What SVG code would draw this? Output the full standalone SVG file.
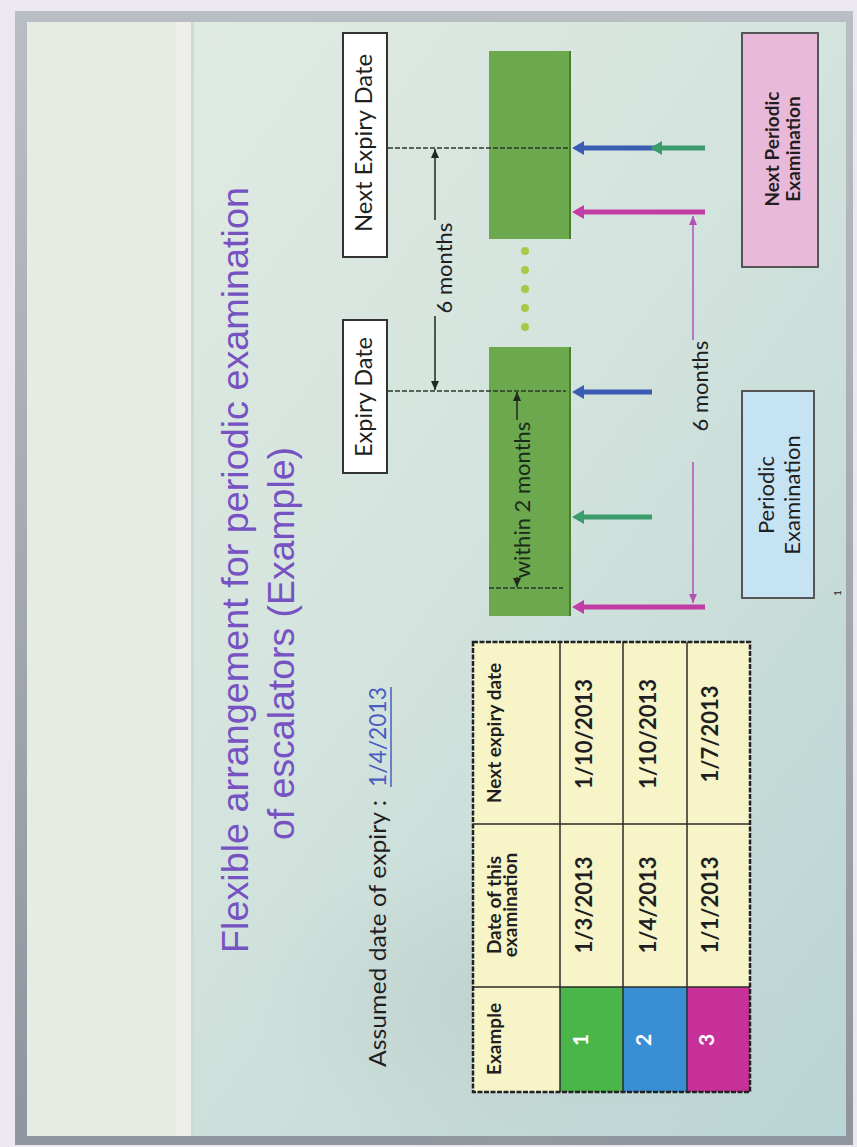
<svg xmlns="http://www.w3.org/2000/svg" width="857" height="1147" viewBox="0 0 857 1147">
<defs>
<linearGradient id="slideBg" x1="0" y1="0" x2="1" y2="1">
<stop offset="0" stop-color="#e3ece3"/>
<stop offset="0.5" stop-color="#d3e3dd"/>
<stop offset="1" stop-color="#b9d4d4"/>
</linearGradient>
<radialGradient id="blob" cx="0.5" cy="0.5" r="0.5">
<stop offset="0" stop-color="#b9c9c6" stop-opacity="0.55"/>
<stop offset="1" stop-color="#b9c9c6" stop-opacity="0"/>
</radialGradient>
<linearGradient id="frameG" x1="0" y1="0" x2="0" y2="1">
<stop offset="0" stop-color="#b9bdc4"/>
<stop offset="1" stop-color="#8f959c"/>
</linearGradient>
<marker id="hBlue" viewBox="0 -7 12 14" refX="6" refY="0" markerWidth="12" markerHeight="14" markerUnits="userSpaceOnUse" orient="auto"><path d="M0,-7 L12,0 L0,7 z" fill="#3a5db4"/></marker>
<marker id="hGreen" viewBox="0 -7 12 14" refX="6" refY="0" markerWidth="12" markerHeight="14" markerUnits="userSpaceOnUse" orient="auto"><path d="M0,-7 L12,0 L0,7 z" fill="#3b9b6c"/></marker>
<marker id="hMag" viewBox="0 -7 12 14" refX="6" refY="0" markerWidth="12" markerHeight="14" markerUnits="userSpaceOnUse" orient="auto"><path d="M0,-7 L12,0 L0,7 z" fill="#c23da3"/></marker>
<marker id="hDim" viewBox="0 -4 9 8" refX="9" refY="0" markerWidth="9" markerHeight="8" markerUnits="userSpaceOnUse" orient="auto-start-reverse"><path d="M0,-4 L9,0 L0,4 z" fill="#1e2a1e"/></marker>
<marker id="hThin" viewBox="0 -4 9 8" refX="9" refY="0" markerWidth="9" markerHeight="8" markerUnits="userSpaceOnUse" orient="auto"><path d="M0,-4 L9,0 L0,4 z" fill="#b450b4"/></marker>
</defs>
<style>
.t{font-family:Lato,"Open Sans",sans-serif;fill:#1f1f1f}
.title{font-family:"Liberation Sans",Arial,sans-serif;font-size:37px;fill:#7652c2}
.box{stroke:#333;stroke-width:2}
.dash{stroke:#2a3a2a;stroke-width:1.5;stroke-dasharray:5,2;fill:none}
.dim{stroke:#1e2a1e;stroke-width:1.5;fill:none}
.thin{stroke:#b450b4;stroke-width:1.5;fill:none}
.arr{stroke-width:5;fill:none}
.green{fill:#6ca84e}
.cell{fill:#f7f4c8}
.grid{stroke:#2b2b2b;stroke-width:1.5}
.hdr{font-size:19px;font-weight:bold}
.dat{font-size:22px;font-weight:bold}
.num{font-family:Lato,"Open Sans",sans-serif;font-size:21px;font-weight:bold;fill:#ffffff}
</style>
<rect x="0" y="0" width="857" height="1147" fill="#ece8f1"/>
<rect x="15" y="11" width="838" height="1134" fill="url(#frameG)"/>
<rect x="27" y="22" width="819" height="1114" fill="url(#slideBg)"/>
<ellipse cx="520" cy="1000" rx="260" ry="160" fill="url(#blob)"/>
<rect x="27" y="22" width="165" height="1114" fill="#e6ece4"/>
<rect x="176" y="22" width="15" height="1114" fill="#eeefea"/>
<rect x="191" y="22" width="3" height="1114" fill="#c9ddd6"/>

<g id="title">
<text class="title" transform="translate(248,953) rotate(-90)" textLength="766" lengthAdjust="spacingAndGlyphs">Flexible arrangement for periodic examination</text>
<text class="title" transform="translate(294,840) rotate(-90)" textLength="393" lengthAdjust="spacingAndGlyphs">of escalators (Example)</text>
</g>

<g id="assumed">
<text class="t" font-size="24" transform="translate(386,1067) rotate(-90)" textLength="267" lengthAdjust="spacingAndGlyphs">Assumed date of expiry :</text>
<text class="t" font-size="24" style="fill:#4a5cc0" transform="translate(386,787) rotate(-90)" textLength="100" lengthAdjust="spacingAndGlyphs">1/4/2013</text>
<line x1="391" y1="687" x2="391" y2="787" stroke="#4a5cc0" stroke-width="1.5"/>
</g>

<g id="next-expiry-date">
<rect class="box" x="343" y="33" width="44" height="224" fill="#ffffff"/>
<text class="t" font-size="23" text-anchor="middle" transform="translate(372,143) rotate(-90)" textLength="178" lengthAdjust="spacingAndGlyphs">Next Expiry Date</text>
</g>
<g id="expiry-date">
<rect class="box" x="343" y="320" width="44" height="153" fill="#ffffff"/>
<text class="t" font-size="23" text-anchor="middle" transform="translate(372,397) rotate(-90)" textLength="120" lengthAdjust="spacingAndGlyphs">Expiry Date</text>
</g>

<g id="period-next">
<rect class="green" x="489" y="51" width="82" height="188"/>
<line x1="570" y1="51" x2="570" y2="239" stroke="#4c7c34" stroke-width="2"/>
</g>
<g id="period-current">
<rect class="green" x="489" y="347" width="82" height="269"/>
<line x1="570" y1="347" x2="570" y2="616" stroke="#4c7c34" stroke-width="2"/>
</g>
<g id="dots" fill="#a9c84a">
<circle cx="525" cy="251" r="4"/>
<circle cx="525" cy="270" r="4"/>
<circle cx="525" cy="289" r="4"/>
<circle cx="525" cy="308" r="4"/>
<circle cx="525" cy="327" r="4"/>
</g>

<g id="next-periodic-examination">
<rect x="742" y="33" width="76" height="234" fill="#e9b9da" stroke="#555" stroke-width="2"/>
<text class="t" font-size="19" font-weight="bold" text-anchor="middle" transform="translate(779,149) rotate(-90)">Next Periodic</text>
<text class="t" font-size="19" font-weight="bold" text-anchor="middle" transform="translate(800,149) rotate(-90)">Examination</text>
</g>
<g id="periodic-examination">
<rect x="742" y="391" width="72" height="207" fill="#c6e3f3" stroke="#555" stroke-width="2"/>
<text class="t" font-size="22" text-anchor="middle" transform="translate(774,495) rotate(-90)">Periodic</text>
<text class="t" font-size="22" text-anchor="middle" transform="translate(800,495) rotate(-90)">Examination</text>
</g>

<g id="connectors">
<line class="dash" x1="388" y1="148" x2="570" y2="148"/>
<line class="dash" x1="388" y1="391" x2="566" y2="391"/>
<line class="dash" x1="489" y1="588" x2="563" y2="588"/>
<line class="dim" x1="435" y1="220" x2="435" y2="149" marker-end="url(#hDim)"/>
<line class="dim" x1="435" y1="316" x2="435" y2="390" marker-end="url(#hDim)"/>
<text class="t" font-size="22" text-anchor="middle" transform="translate(452,268) rotate(-90)">6 months</text>
<line class="dim" x1="517" y1="420" x2="517" y2="392" marker-end="url(#hDim)"/>
<line class="dim" x1="517" y1="577" x2="517" y2="587" marker-end="url(#hDim)"/>
<text class="t" font-size="22" text-anchor="middle" style="fill:#1b2b1b" transform="translate(530,500) rotate(-90)">within 2 months</text>
<line class="arr" stroke="#3a5db4" x1="656" y1="148" x2="578" y2="148" marker-end="url(#hBlue)"/>
<line class="arr" stroke="#3b9b6c" x1="705" y1="148" x2="656" y2="148" marker-end="url(#hGreen)"/>
<line class="arr" stroke="#c23da3" x1="705" y1="212" x2="578" y2="212" marker-end="url(#hMag)"/>
<line class="arr" stroke="#3a5db4" x1="652" y1="392" x2="578" y2="392" marker-end="url(#hBlue)"/>
<line class="arr" stroke="#3b9b6c" x1="652" y1="517" x2="578" y2="517" marker-end="url(#hGreen)"/>
<line class="arr" stroke="#c23da3" x1="705" y1="607" x2="578" y2="607" marker-end="url(#hMag)"/>
<line class="thin" x1="693" y1="340" x2="693" y2="216" marker-end="url(#hThin)"/>
<line class="thin" x1="693" y1="462" x2="693" y2="603" marker-end="url(#hThin)"/>
<text class="t" font-size="22" text-anchor="middle" transform="translate(708,386) rotate(-90)">6 months</text>
</g>

<g id="table">
<rect class="cell" x="473" y="642" width="277" height="450"/>
<rect x="560" y="987" width="63" height="105" fill="#4ab64a"/>
<rect x="623" y="987" width="64" height="105" fill="#3a8ed4"/>
<rect x="687" y="987" width="63" height="105" fill="#c8309a"/>
<line class="grid" x1="560" y1="642" x2="560" y2="1092"/>
<line class="grid" x1="623" y1="642" x2="623" y2="1092"/>
<line class="grid" x1="687" y1="642" x2="687" y2="1092"/>
<line class="grid" x1="473" y1="824" x2="750" y2="824"/>
<line class="grid" x1="473" y1="987" x2="750" y2="987"/>
<rect x="473" y="642" width="277" height="450" fill="none" stroke="#222" stroke-width="2.5" stroke-dasharray="5,1.5"/>
<text class="t hdr" text-anchor="middle" transform="translate(501,1039) rotate(-90)">Example</text>
<text class="t hdr" text-anchor="middle" transform="translate(501,905) rotate(-90)">Date of this</text>
<text class="t hdr" text-anchor="middle" transform="translate(517,905) rotate(-90)">examination</text>
<text class="t hdr" text-anchor="middle" transform="translate(501,733) rotate(-90)">Next expiry date</text>
<text class="num" text-anchor="middle" transform="translate(588,1040) rotate(-90)">1</text>
<text class="num" text-anchor="middle" transform="translate(651,1040) rotate(-90)">2</text>
<text class="num" text-anchor="middle" transform="translate(714,1040) rotate(-90)">3</text>
<text class="t dat" text-anchor="middle" transform="translate(592,905) rotate(-90)">1/3/2013</text>
<text class="t dat" text-anchor="middle" transform="translate(656,905) rotate(-90)">1/4/2013</text>
<text class="t dat" text-anchor="middle" transform="translate(718,905) rotate(-90)">1/1/2013</text>
<text class="t dat" text-anchor="middle" transform="translate(592,734) rotate(-90)">1/10/2013</text>
<text class="t dat" text-anchor="middle" transform="translate(656,734) rotate(-90)">1/10/2013</text>
<text class="t dat" text-anchor="middle" transform="translate(718,734) rotate(-90)">1/7/2013</text>
</g>

<g id="page-number">
<text class="t" font-size="10" text-anchor="middle" transform="translate(841,593) rotate(-90)">1</text>
</g>
</svg>
